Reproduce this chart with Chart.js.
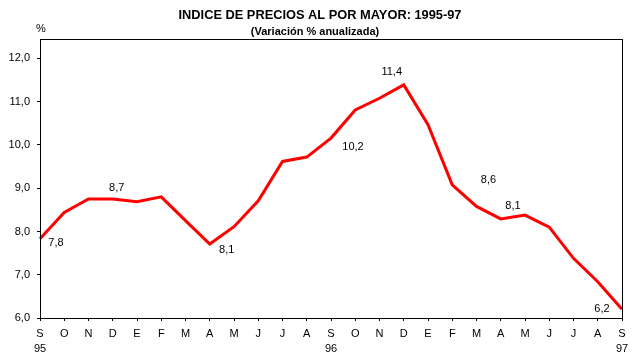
<!DOCTYPE html>
<html>
<head>
<meta charset="utf-8">
<script src="https://cdn.jsdelivr.net/npm/chart.js@4/dist/chart.umd.min.js"></script>
<style>
  html, body { margin: 0; padding: 0; background: #fff; }
  canvas { display: block; }
</style>
</head>
<body>
<canvas id="grafico" width="637" height="364"></canvas>
<script>
// meses de set-95 a set-97
const meses = ["S","O","N","D","E","F","M","A","M","J","J","A","S","O","N","D","E","F","M","A","M","J","J","A","S"];
const anios = {0: "95", 12: "96", 24: "97"};
const variacion = [7.83, 8.44, 8.75, 8.75, 8.69, 8.80, 8.25, 7.71, 8.11, 8.71, 9.62, 9.72,
                   10.16, 10.81, 11.08, 11.39, 10.47, 9.08, 8.58, 8.29, 8.38, 8.10, 7.38, 6.84, 6.20];
const yTicks = [6, 7, 8, 9, 10, 11, 12];
// etiquetas de valor que muestra el grafico (indice del punto -> texto)
const etiquetas = {0: "7,8", 3: "8,7", 7: "8,1", 12: "10,2", 15: "11,4", 18: "8,6", 20: "8,1", 24: "6,2"};

// desplazamiento de cada etiqueta respecto de su punto
const desplaz = {0: [16, 4], 3: [4, -11], 7: [17, 6], 12: [22, 9], 15: [-12, -13], 18: [12, -26], 20: [-12, -9], 24: [-20, 0]};

const labels = meses.map((m, i) => anios[i] ? [m, anios[i]] : m);

const textos = {
  id: "textos",
  afterDraw(chart) {
    const ctx = chart.ctx;
    const a = chart.chartArea;
    ctx.save();
    // marco
    ctx.strokeStyle = "#000";
    ctx.lineWidth = 1;
    ctx.strokeRect(Math.round(a.left) + 0.5, Math.round(a.top) + 0.5, Math.round(a.right - a.left), Math.round(a.bottom - a.top));

    ctx.fillStyle = "#000";
    ctx.textAlign = "center";
    ctx.textBaseline = "middle";
    ctx.font = 'bold 13px "Liberation Sans", Arial, sans-serif';
    ctx.fillText("INDICE DE PRECIOS AL POR MAYOR: 1995-97", 320, 15, 283);
    ctx.font = 'bold 11px "Liberation Sans", Arial, sans-serif';
    ctx.fillText("(Variación % anualizada)", 315, 32, 130);
    ctx.font = '11px "Liberation Sans", Arial, sans-serif';
    ctx.fillText("%", 41, 29);

    const meta = chart.getDatasetMeta(0);
    Object.keys(etiquetas).forEach((k) => {
      const p = meta.data[k];
      const d = desplaz[k];
      ctx.fillText(etiquetas[k], p.x + d[0], p.y + d[1]);
    });
    ctx.restore();
  }
};

new Chart(document.getElementById("grafico"), {
  type: "line",
  data: {
    labels: labels,
    datasets: [{
      data: variacion,
      borderColor: "#ff0000",
      borderWidth: 3,
      pointRadius: 0,
      tension: 0,
      fill: false
    }]
  },
  options: {
    responsive: false,
    animation: false,
    layout: { padding: { top: 39, right: 15, left: 0, bottom: 0 } },
    plugins: {
      legend: { display: false },
      title: { display: false },
      tooltip: { enabled: false }
    },
    scales: {
      x: {
        offset: false,
        grid: { drawOnChartArea: false, drawTicks: true, tickLength: 3, tickColor: "#000" },
        border: { display: true, color: "#000", width: 1 },
        ticks: {
          color: "#000",
          font: { family: '"Liberation Sans", Arial, sans-serif', size: 11, lineHeight: 1.4 },
          maxRotation: 0,
          autoSkip: false,
          padding: 5
        },
        afterFit(scale) { scale.height = 46; }
      },
      y: {
        min: 6,
        max: 12.45,
        afterBuildTicks(scale) { scale.ticks = yTicks.map(v => ({ value: v })); },
        grid: { drawOnChartArea: false, drawTicks: true, tickLength: 3, tickColor: "#000" },
        border: { display: true, color: "#000", width: 1 },
        ticks: {
          color: "#000",
          font: { family: '"Liberation Sans", Arial, sans-serif', size: 11 },
          padding: 7,
          callback: (v) => v.toFixed(1).replace(".", ",")
        },
        afterFit(scale) { scale.width = 40; }
      }
    }
  },
  plugins: [textos]
});
</script>
</body>
</html>
